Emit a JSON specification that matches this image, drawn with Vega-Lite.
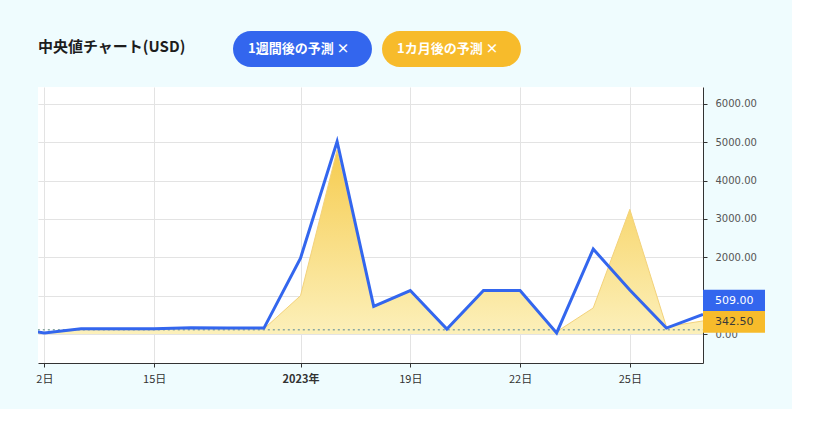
{
  "$schema": "https://vega.github.io/schema/vega-lite/v6.json",
  "width": 665,
  "height": 276,
  "padding": {"left": 35, "top": 31, "right": 27, "bottom": 25},
  "background": "#effcfe",
  "title": {
    "text": "中央値チャート(USD)",
    "anchor": "start",
    "frame": "group",
    "font": "Noto Sans CJK JP",
    "fontSize": 15,
    "fontWeight": "bold",
    "color": "#1d1d1d",
    "offset": -24
  },
  "datasets": {
    "median": [
      {"idx": -1, "series": "1週間後の予測", "value": 150},
      {"idx": 0, "series": "1週間後の予測", "value": 30},
      {"idx": 1, "series": "1週間後の予測", "value": 135},
      {"idx": 2, "series": "1週間後の予測", "value": 135},
      {"idx": 3, "series": "1週間後の予測", "value": 135},
      {"idx": 4, "series": "1週間後の予測", "value": 165},
      {"idx": 5, "series": "1週間後の予測", "value": 155},
      {"idx": 6, "series": "1週間後の予測", "value": 155},
      {"idx": 7, "series": "1週間後の予測", "value": 1980},
      {"idx": 8, "series": "1週間後の予測", "value": 5020},
      {"idx": 9, "series": "1週間後の予測", "value": 720},
      {"idx": 10, "series": "1週間後の予測", "value": 1135},
      {"idx": 11, "series": "1週間後の予測", "value": 130},
      {"idx": 12, "series": "1週間後の予測", "value": 1135},
      {"idx": 13, "series": "1週間後の予測", "value": 1135},
      {"idx": 14, "series": "1週間後の予測", "value": 30},
      {"idx": 15, "series": "1週間後の予測", "value": 2215},
      {"idx": 16, "series": "1週間後の予測", "value": 1150},
      {"idx": 17, "series": "1週間後の予測", "value": 155},
      {"idx": 18, "series": "1週間後の予測", "value": 509},
      {"idx": -1, "series": "1カ月後の予測", "value": 120},
      {"idx": 0, "series": "1カ月後の予測", "value": 20},
      {"idx": 1, "series": "1カ月後の予測", "value": 115},
      {"idx": 2, "series": "1カ月後の予測", "value": 115},
      {"idx": 3, "series": "1カ月後の予測", "value": 115},
      {"idx": 4, "series": "1カ月後の予測", "value": 145},
      {"idx": 5, "series": "1カ月後の予測", "value": 135},
      {"idx": 6, "series": "1カ月後の予測", "value": 135},
      {"idx": 7, "series": "1カ月後の予測", "value": 1000},
      {"idx": 8, "series": "1カ月後の予測", "value": 4800},
      {"idx": 9, "series": "1カ月後の予測", "value": 700},
      {"idx": 10, "series": "1カ月後の予測", "value": 1110},
      {"idx": 11, "series": "1カ月後の予測", "value": 110},
      {"idx": 12, "series": "1カ月後の予測", "value": 1110},
      {"idx": 13, "series": "1カ月後の予測", "value": 1110},
      {"idx": 14, "series": "1カ月後の予測", "value": 60},
      {"idx": 15, "series": "1カ月後の予測", "value": 680},
      {"idx": 16, "series": "1カ月後の予測", "value": 3250},
      {"idx": 17, "series": "1カ月後の予測", "value": 190},
      {"idx": 18, "series": "1カ月後の予測", "value": 342.5}
    ],
    "priceline": [
      {"idx": -1, "value": 110},
      {"idx": 18, "value": 110}
    ]
  },
  "data": {"name": "median"},
  "encoding": {
    "x": {
      "field": "idx",
      "type": "quantitative",
      "scale": {"domain": [-0.175, 18], "nice": false, "zero": false},
      "axis": {
        "orient": "bottom",
        "title": null,
        "values": [0, 3, 7, 10, 13, 16],
        "labelExpr": "datum.value == 0 ? '2日' : datum.value == 3 ? '15日' : datum.value == 7 ? '2023年' : datum.value == 10 ? '19日' : datum.value == 13 ? '22日' : '25日'",
        "grid": true,
        "gridColor": "#e3e3e3",
        "domainColor": "#333333",
        "tickColor": "#333333",
        "tickSize": 4,
        "labelFont": "Noto Sans CJK JP",
        "labelFontSize": 11,
        "labelColor": "#333333",
        "labelPadding": 6,
        "labelFontWeight": {"condition": {"test": "datum.value == 7", "value": "bold"}, "value": "normal"}
      }
    },
    "y": {
      "field": "value",
      "type": "quantitative",
      "scale": {"domain": [-755, 6440], "nice": false, "zero": false},
      "axis": {
        "orient": "right",
        "title": null,
        "values": [0, 1000, 2000, 3000, 4000, 5000, 6000],
        "labelExpr": "datum.value == 1000 ? '' : format(datum.value, '.2f')",
        "grid": true,
        "gridColor": "#e3e3e3",
        "domainColor": "#333333",
        "tickColor": "#333333",
        "tickSize": 4,
        "labelFont": "DejaVu Sans",
        "labelFontSize": 10,
        "labelColor": "#555555",
        "labelPadding": 8
      }
    }
  },
  "layer": [
    {
      "transform": [{"filter": "datum.series == '1カ月後の予測'"}],
      "mark": {
        "type": "area",
        "clip": true,
        "opacity": 1,
        "color": {
          "x1": 1, "y1": 1, "x2": 1, "y2": 0,
          "gradient": "linear",
          "stops": [
            {"offset": 0, "color": "#fcf0ba"},
            {"offset": 1, "color": "#f6cc50"}
          ]
        },
        "line": {"color": "#f3d27a", "strokeWidth": 1}
      },
      "encoding": {"y2": {"value": "height"}}
    },
    {
      "data": {"name": "priceline"},
      "mark": {"type": "line", "clip": true, "color": "#8aa8a2", "strokeWidth": 1.5, "strokeDash": [2, 3]}
    },
    {
      "transform": [{"filter": "datum.series == '1週間後の予測'"}],
      "mark": {"type": "line", "clip": true, "strokeWidth": 3},
      "encoding": {
        "color": {
          "field": "series",
          "type": "nominal",
          "scale": {"domain": ["1週間後の予測", "1カ月後の予測"], "range": ["#3366ee", "#f7bb2b"]},
          "legend": {
            "title": null,
            "orient": "none",
            "legendX": 195,
            "legendY": -56,
            "direction": "horizontal",
            "symbolType": "M0,-1 L5.72,-1 A1,1 0 0 1 5.72,1 L0,1 A1,1 0 0 1 0,-1 Z",
            "symbolSize": 1296,
            "symbolStrokeWidth": 0,
            "symbolOpacity": 1,
            "labelOffset": -21,
            "labelColor": "white",
            "labelFont": "Noto Sans CJK JP",
            "labelFontSize": 13,
            "labelFontWeight": "bold",
            "columnPadding": 10,
            "labelExpr": "datum.label + '  ×'",
            "encode": {
              "symbols": {
                "update": {
                  "fill": {"scale": "color", "field": "value"},
                  "stroke": {"value": "transparent"},
                  "opacity": {"value": 1}
                }
              }
            }
          }
        }
      }
    },
    {
      "transform": [{"filter": "datum.idx == 18"}],
      "mark": {
        "type": "point",
        "filled": true,
        "opacity": 1,
        "size": 3844,
        "shape": "M0,-0.35 L2,-0.35 L2,0.35 L0,0.35 Z",
        "yOffset": {"expr": "datum.series == '1週間後の予測' ? -14 : 1"}
      },
      "encoding": {
        "color": {"field": "series", "type": "nominal", "legend": null}
      }
    },
    {
      "transform": [{"filter": "datum.idx == 18"}],
      "mark": {
        "type": "text",
        "align": "left",
        "baseline": "middle",
        "dx": 12,
        "font": "DejaVu Sans",
        "fontSize": 11,
        "yOffset": {"expr": "datum.series == '1週間後の予測' ? -14 : 1"}
      },
      "encoding": {
        "text": {"field": "value", "type": "quantitative", "format": ".2f"},
        "color": {"condition": {"test": "datum.series == '1週間後の予測'", "value": "white"}, "value": "#3a3a3a"}
      }
    }
  ],
  "config": {
    "view": {"fill": "white", "stroke": null}
  }
}
